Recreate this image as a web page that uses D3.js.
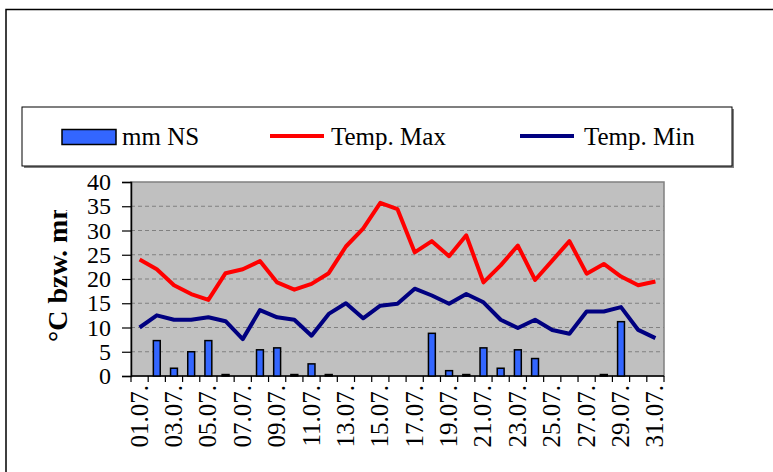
<!DOCTYPE html>
<html>
<head>
<meta charset="utf-8">
<script src="https://cdn.jsdelivr.net/npm/d3@7/dist/d3.min.js"></script>
<style>
  html, body { margin: 0; padding: 0; background: #fff; }
  svg { display: block; }
  svg text { font-family: "Liberation Serif", "Times New Roman", Times, "DejaVu Serif", serif !important; fill: #000; }
</style>
</head>
<body>
<svg id="chart" width="773" height="472"></svg>
<script>
// Daily weather for July: precipitation (mm) and max/min temperature (°C)
const days = ["01.07.","02.07.","03.07.","04.07.","05.07.","06.07.","07.07.","08.07.","09.07.","10.07.",
              "11.07.","12.07.","13.07.","14.07.","15.07.","16.07.","17.07.","18.07.","19.07.","20.07.",
              "21.07.","22.07.","23.07.","24.07.","25.07.","26.07.","27.07.","28.07.","29.07.","30.07.","31.07."];
const rainMm = [0, 7.3, 1.6, 5.0, 7.3, 0.3, 0, 5.4, 5.8, 0.3,
                2.5, 0.3, 0, 0, 0, 0, 0, 8.8, 1.1, 0.3,
                5.8, 1.6, 5.4, 3.6, 0, 0, 0, 0.3, 11.2, 0, 0];
const tempMax = [24.0, 22.0, 18.7, 16.9, 15.7, 21.2, 22.0, 23.7, 19.3, 17.8,
                 19.0, 21.2, 26.7, 30.4, 35.7, 34.4, 25.5, 27.8, 24.7, 29.0,
                 19.3, 22.8, 26.9, 19.8, 23.8, 27.8, 21.1, 23.1, 20.5, 18.7, 19.5];
const tempMin = [10.0, 12.5, 11.6, 11.6, 12.1, 11.3, 7.6, 13.6, 12.1, 11.6,
                 8.3, 12.8, 15.0, 11.9, 14.5, 14.9, 18.0, 16.6, 14.9, 16.9,
                 15.2, 11.6, 9.9, 11.6, 9.5, 8.7, 13.3, 13.3, 14.2, 9.5, 7.8];
const yTicks = [0, 5, 10, 15, 20, 25, 30, 35, 40];
const xTickLabels = days.filter((d, i) => i % 2 === 0);
const legendItems = [
  { label: "mm NS", kind: "bar" },
  { label: "Temp. Max", kind: "line", color: "#ff0000" },
  { label: "Temp. Min", kind: "line", color: "#000080" }
];

const FONT = '"Liberation Serif", "Times New Roman", Times, "DejaVu Serif", serif';
const svg = d3.select("#chart");
const plot = { left: 131, top: 182, right: 664, bottom: 376 };

// Outer chart frame
svg.append("rect")
  .attr("x", 6).attr("y", 9.5).attr("width", 800).attr("height", 500)
  .attr("fill", "#fff").attr("stroke", "#000").attr("stroke-width", 1.5);

const x = d3.scaleBand().domain(days).range([plot.left, plot.right]).padding(0);
const y = d3.scaleLinear().domain([0, 40]).range([plot.bottom, plot.top]);

// Plot background
svg.append("rect")
  .attr("x", plot.left).attr("y", plot.top)
  .attr("width", plot.right - plot.left).attr("height", plot.bottom - plot.top)
  .attr("fill", "#c0c0c0").attr("stroke", "#808080").attr("stroke-width", 1.5);

// Dashed gridlines
svg.append("g").selectAll("line")
  .data(yTicks.filter(t => t > 0 && t < 40))
  .join("line")
  .attr("x1", plot.left).attr("x2", plot.right)
  .attr("y1", d => y(d)).attr("y2", d => y(d))
  .attr("stroke", "#808080").attr("stroke-width", 1).attr("stroke-dasharray", "4,3");

// Y axis
const yAxis = d3.axisLeft(y).tickValues(yTicks).tickSize(9).tickPadding(11).tickFormat(d3.format("d"));
const gy = svg.append("g").attr("transform", `translate(${plot.left},0)`).call(yAxis)
  .attr("font-family", FONT).attr("font-size", 24);
gy.select(".domain").attr("stroke", "#000").attr("stroke-width", 1.5);
gy.selectAll(".tick line").attr("stroke", "#000").attr("stroke-width", 1.2);
gy.selectAll(".tick text").attr("fill", "#000");

// X axis: ticks at category boundaries
const boundaries = d3.range(days.length + 1).map(i => plot.left + i * x.bandwidth());
const gx = svg.append("g").attr("font-family", FONT).attr("font-size", 25);
gx.append("line")
  .attr("x1", plot.left).attr("x2", plot.right)
  .attr("y1", plot.bottom).attr("y2", plot.bottom)
  .attr("stroke", "#000").attr("stroke-width", 1.5);
gx.selectAll("line.tk").data(boundaries).join("line").attr("class", "tk")
  .attr("x1", d => d).attr("x2", d => d)
  .attr("y1", plot.bottom).attr("y2", plot.bottom + 6)
  .attr("stroke", "#000").attr("stroke-width", 1.2);
gx.selectAll("text").data(xTickLabels).join("text")
  .attr("transform", d => `translate(${x(d) + x.bandwidth() / 2 + 8},385) rotate(-90)`)
  .attr("text-anchor", "end")
  .text(d => d);

// Precipitation bars
const bw = x.bandwidth() * 0.4;
svg.append("g").selectAll("rect")
  .data(days.map((d, i) => ({ day: d, v: rainMm[i] })).filter(d => d.v > 0))
  .join("rect")
  .attr("x", d => x(d.day) + (x.bandwidth() - bw) / 2)
  .attr("y", d => y(d.v))
  .attr("width", bw)
  .attr("height", d => y(0) - y(d.v))
  .attr("fill", "#3366ff").attr("stroke", "#000").attr("stroke-width", 1.5);

// Temperature lines
const line = d3.line().x((d, i) => x(days[i]) + x.bandwidth() / 2).y(d => y(d));
svg.append("path").datum(tempMax).attr("d", line)
  .attr("fill", "none").attr("stroke", "#ff0000").attr("stroke-width", 4).attr("stroke-linejoin", "round");
svg.append("path").datum(tempMin).attr("d", line)
  .attr("fill", "none").attr("stroke", "#000080").attr("stroke-width", 4).attr("stroke-linejoin", "round");

// Y axis title (clipped at the top)
svg.append("clipPath").attr("id", "ytitle-clip")
  .append("rect").attr("x", 0).attr("y", 210).attr("width", 120).attr("height", 200);
svg.append("g").attr("clip-path", "url(#ytitle-clip)")
  .append("text")
  .attr("transform", "translate(67,342) rotate(-90)")
  .attr("text-anchor", "start")
  .attr("font-family", FONT).attr("font-size", 28).attr("font-weight", "bold")
  .text("°C bzw. mm");

// Legend
const lg = svg.append("g").attr("font-family", FONT).attr("font-size", 25);
lg.append("rect").attr("x", 24).attr("y", 109).attr("width", 710).attr("height", 59).attr("fill", "#808080");
lg.append("rect").attr("x", 22).attr("y", 107).attr("width", 710).attr("height", 59)
  .attr("fill", "#fff").attr("stroke", "#000").attr("stroke-width", 1);
const legendX = [62, 270, 520];
const legendTextX = [122, 331, 584];
legendItems.forEach((it, i) => {
  if (it.kind === "bar") {
    lg.append("rect").attr("x", legendX[i]).attr("y", 129.5).attr("width", 54).attr("height", 15)
      .attr("fill", "#3366ff").attr("stroke", "#000").attr("stroke-width", 1.5);
  } else {
    lg.append("line").attr("x1", legendX[i]).attr("x2", legendX[i] + 54)
      .attr("y1", 136).attr("y2", 136)
      .attr("stroke", it.color).attr("stroke-width", 4);
  }
  lg.append("text").attr("x", legendTextX[i]).attr("y", 145).text(it.label);
});
</script>
</body>
</html>
